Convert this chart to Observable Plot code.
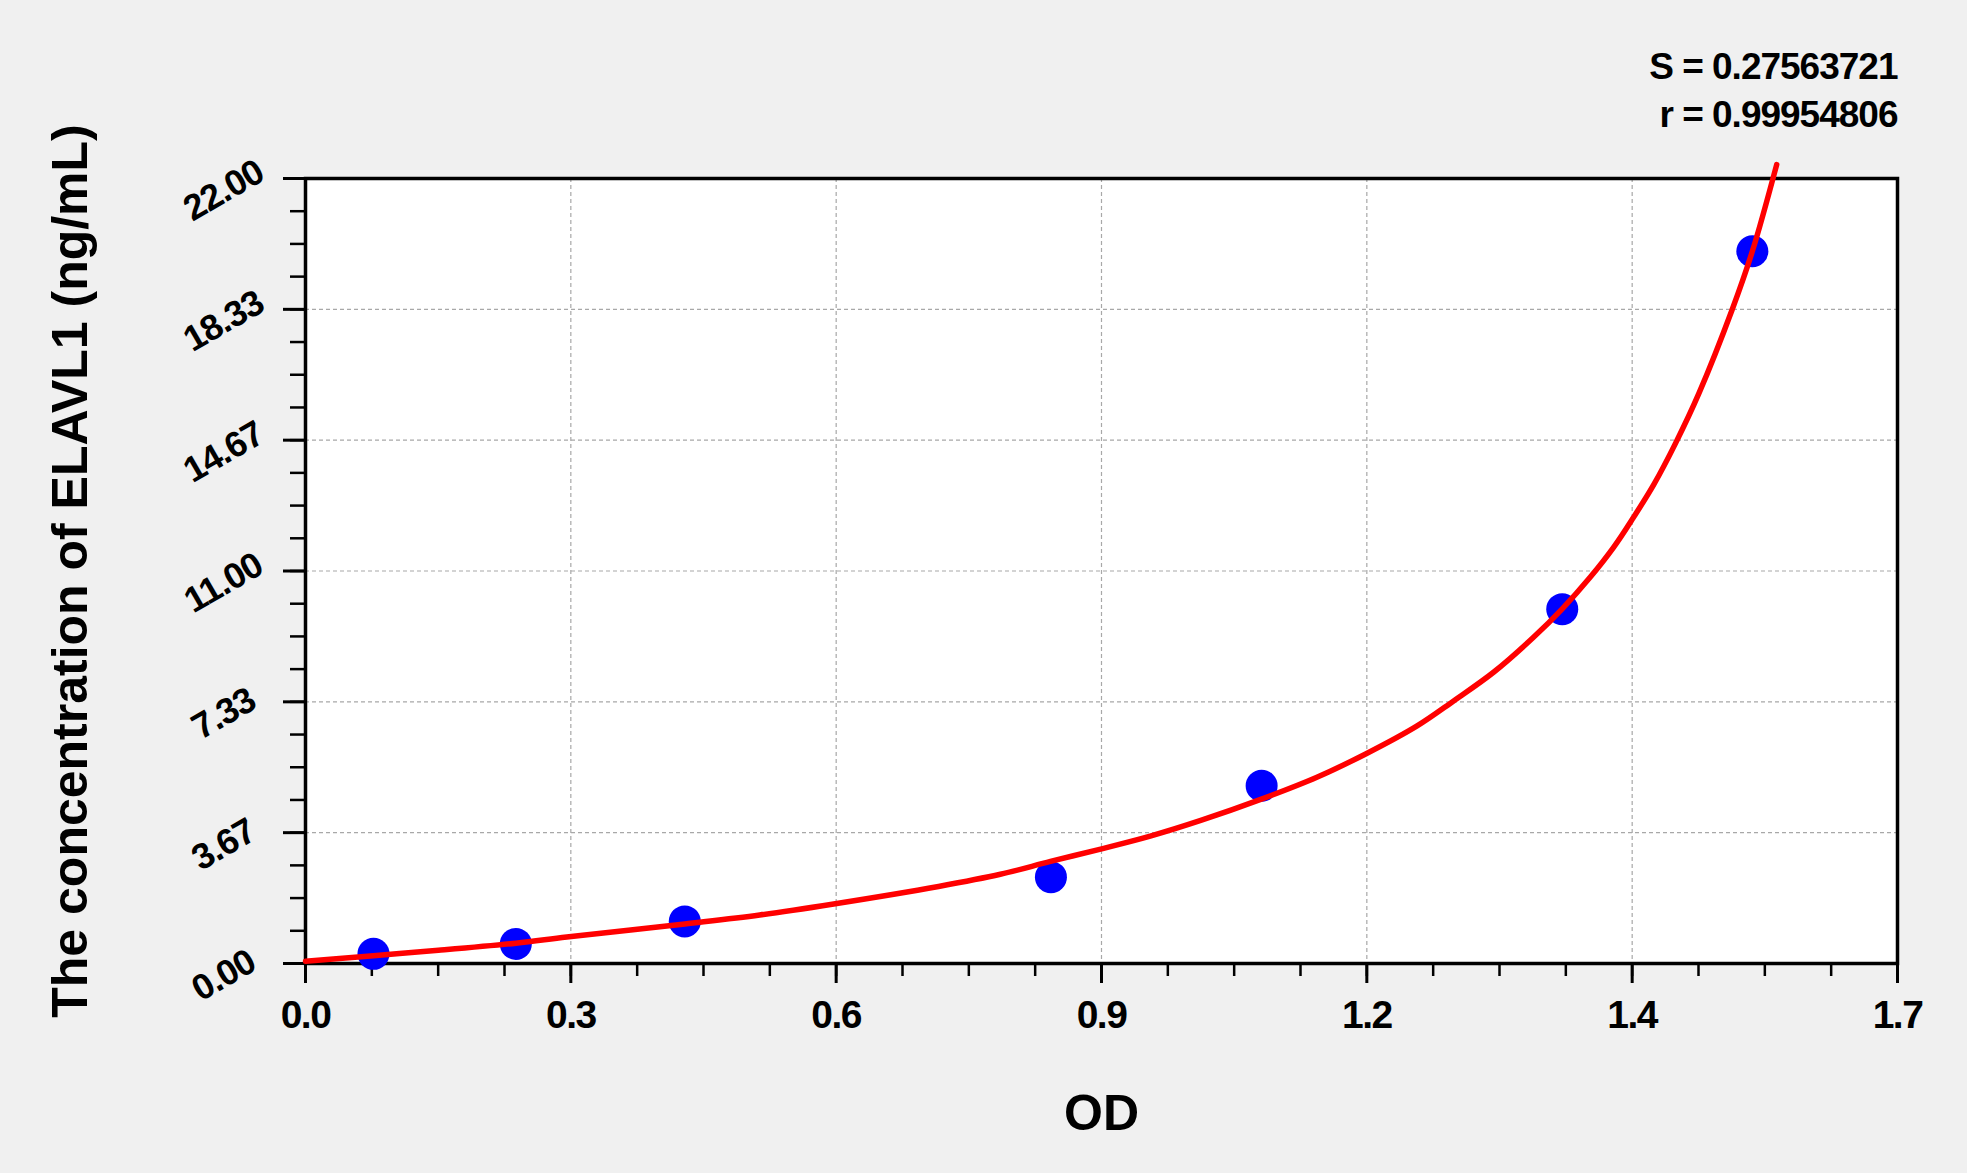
<!DOCTYPE html>
<html>
<head>
<meta charset="utf-8">
<script src="https://cdn.jsdelivr.net/npm/d3@7"></script>
<script src="https://cdn.jsdelivr.net/npm/@observablehq/plot@0.6"></script>
<style>
  html, body { margin: 0; padding: 0; background: #f0f0f0; }
  #chart svg { display: block; }
</style>
</head>
<body>
<div id="chart"></div>
<script>
// Standard points (OD, concentration)
const pointOD   = [0.0726, 0.2246, 0.405, 0.796, 1.021, 1.342, 1.545];
const pointConc = [0.27, 0.55, 1.18, 2.42, 4.98, 9.93, 19.96];

// Fitted curve
const curveOD   = [0, 0.0726, 0.142, 0.2246, 0.279, 0.405, 0.485, 0.564, 0.676, 0.742, 0.7955, 0.848, 0.902, 0.956,
                   1.020, 1.080, 1.1326, 1.187, 1.226, 1.269, 1.3116, 1.342, 1.372, 1.397, 1.418, 1.4397, 1.4628,
                   1.4878, 1.5235, 1.545, 1.571];
const curveConc = [0.06, 0.22, 0.37, 0.57, 0.74, 1.11, 1.36, 1.67, 2.16, 2.50, 2.86, 3.20, 3.57, 4.01,
                   4.60, 5.22, 5.88, 6.66, 7.36, 8.17, 9.15, 9.94, 10.83, 11.67, 12.50, 13.42, 14.57,
                   15.97, 18.33, 19.96, 22.39];

// Axis ticks
const xTicks = [0, 0.28333, 0.56667, 0.85, 1.13333, 1.41667, 1.7];
const xTickLabels = ["0.0", "0.3", "0.6", "0.9", "1.2", "1.4", "1.7"];
const yTicks = [0, 3.66667, 7.33333, 11, 14.66667, 18.33333, 22];
const yTickLabels = ["0.00", "3.67", "7.33", "11.00", "14.67", "18.33", "22.00"];

const xTitle = "OD";
const yTitle = "The concentration of ELAVL1 (ng/mL)";
const statLines = ["S = 0.27563721", "r = 0.99954806"];

const xMinor = d3.range(0, 25).map(i => i * 1.7 / 24);
const yMinor = d3.range(0, 25).map(i => i * 22 / 24);

const points = pointOD.map((x, i) => ({x, y: pointConc[i]}));
const curve = curveOD.map((x, i) => ({x, y: curveConc[i]}));

const font = "Arial, 'Liberation Sans', Helvetica, sans-serif";

const chart = Plot.plot({
  width: 1967,
  height: 1173,
  marginLeft: 305,
  marginRight: 70,
  marginTop: 178,
  marginBottom: 210,
  style: {background: "#f0f0f0", fontFamily: font, color: "black"},
  x: {domain: [0, 1.7]},
  y: {domain: [0, 22]},
  marks: [
    Plot.frame({fill: "white", stroke: "none"}),
    Plot.ruleX(xTicks.slice(1, -1), {x: d => d, stroke: "#a8a8a8", strokeWidth: 1.2, strokeDasharray: "4,3"}),
    Plot.ruleY(yTicks.slice(1, -1), {y: d => d, stroke: "#a8a8a8", strokeWidth: 1.2, strokeDasharray: "4,3"}),
    Plot.axisX({ticks: xMinor, tickSize: 13, strokeWidth: 2.5, tickFormat: () => "", label: null, stroke: "black"}),
    Plot.axisX({ticks: xTicks, tickSize: 20, strokeWidth: 3, tickFormat: () => "", label: null, stroke: "black"}),
    Plot.axisY({ticks: yMinor, tickSize: 15, strokeWidth: 2.5, tickFormat: () => "", label: null, stroke: "black"}),
    Plot.axisY({ticks: yTicks, tickSize: 22, strokeWidth: 3, tickFormat: () => "", label: null, stroke: "black"}),
    Plot.frame({stroke: "black", strokeWidth: 3.5}),
    Plot.dot(points, {x: "x", y: "y", r: 16, fill: "#0000ff", stroke: "none"}),
    Plot.line(curve, {x: "x", y: "y", stroke: "#ff0000", strokeWidth: 5.5, curve: "catmull-rom"}),
    Plot.text(xTicks, {x: d => d, text: (d, i) => xTickLabels[i], frameAnchor: "bottom", dy: 52,
      fontSize: 39, fontWeight: "bold", fill: "black", lineAnchor: "middle", textAnchor: "middle", className: "xlab"}),
    Plot.text(yTicks, {y: d => d, text: (d, i) => yTickLabels[i], frameAnchor: "left", dx: -82, dy: 12,
      rotate: -30, fontSize: 36, fontWeight: "bold", fill: "black", lineAnchor: "middle", textAnchor: "middle", className: "ylab"}),
    Plot.text([xTitle], {frameAnchor: "bottom", dy: 150, fontSize: 50, fontWeight: "bold", fill: "black", lineAnchor: "middle", textAnchor: "middle"}),
    Plot.text([yTitle], {frameAnchor: "left", dx: -235, rotate: -90, fontSize: 50, fontWeight: "bold", fill: "black", lineAnchor: "middle", textAnchor: "middle"}),
    Plot.text([statLines[0]], {frameAnchor: "top-right", dy: -100, textAnchor: "end", lineAnchor: "bottom",
      fontSize: 37, fontWeight: "bold", fill: "black", className: "stat"}),
    Plot.text([statLines[1]], {frameAnchor: "top-right", dy: -52, textAnchor: "end", lineAnchor: "bottom",
      fontSize: 37, fontWeight: "bold", fill: "black", className: "stat"})
  ]
});
document.getElementById("chart").appendChild(chart);
chart.querySelectorAll(".stat text").forEach(t => t.setAttribute("letter-spacing", "-1"));
chart.querySelectorAll(".xlab text").forEach(t => t.setAttribute("letter-spacing", "-1.5"));
chart.querySelectorAll(".ylab text").forEach(t => t.setAttribute("letter-spacing", "-1"));
</script>
</body>
</html>
